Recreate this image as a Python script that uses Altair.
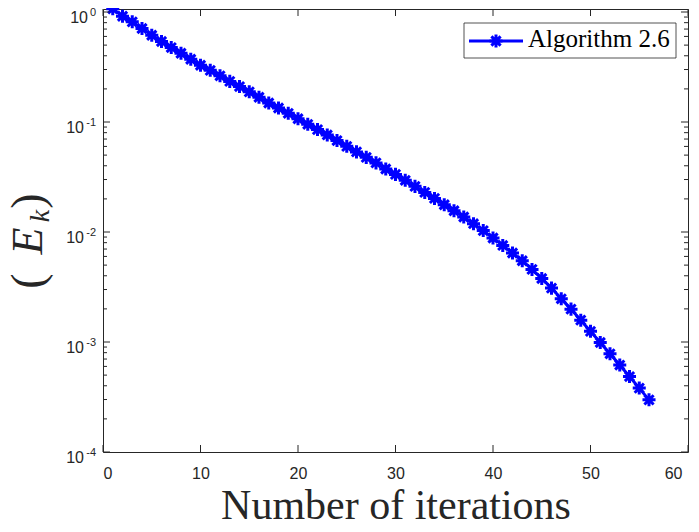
import altair as alt
import pandas as pd

# ---- data ----
iterations = list(range(1, 57))
errors = [
    1.069, 0.915, 0.814, 0.708, 0.615, 0.539, 0.475, 0.422, 0.372, 0.328,
    0.295, 0.263, 0.234, 0.210, 0.188, 0.168, 0.149, 0.134, 0.120, 0.107,
    0.0953, 0.0853, 0.0763, 0.0678, 0.0601, 0.0535, 0.0477, 0.0425, 0.0374, 0.0334,
    0.0295, 0.0260, 0.0229, 0.0202, 0.0177, 0.0156, 0.0137, 0.0119, 0.0103, 0.00882,
    0.00755, 0.00644, 0.00548, 0.00457, 0.00378, 0.00309, 0.00247, 0.00199, 0.00158, 0.00125,
    0.000989, 0.000781, 0.000617, 0.000485, 0.000381, 0.000298,
]
x_ticks = [0, 10, 20, 30, 40, 50, 60]
y_major = [1, 0.1, 0.01, 0.001, 0.0001]
y_exponents = ["0", "-1", "-2", "-3", "-4"]
y_minor = [m * 10.0 ** d for d in (-4, -3, -2, -1) for m in range(2, 10)]
legend_label = ["Algorithm 2.6"]

W, H = 585, 443
AX = "#262626"
BLUE = "#0000FF"
ASTER = ("M0,-1L0,1M-1,0L1,0M-0.7071,-0.7071L0.7071,0.7071"
         "M-0.7071,0.7071L0.7071,-0.7071")

xscale = alt.Scale(domain=[0, 60], nice=False, zero=False)
yscale = alt.Scale(type="log", domain=[0.0001, 1.065], nice=False)
xaxis = alt.Axis(values=x_ticks, ticks=False, domain=False, grid=False,
                 labelFont="Liberation Sans", labelFontSize=16, labelColor=AX,
                 labelPadding=13,
                 labelOffset=alt.ExprRef("datum.value == 60 ? -6 : 0"),
                 title="Number of iterations",
                 titleFont="Liberation Serif", titleFontSize=42,
                 titleFontWeight="normal", titleColor=AX,
                 titleBaseline="alphabetic", titleY=66)
X = alt.X("x:Q", scale=xscale, axis=xaxis)
Y = alt.Y("y:Q", scale=yscale, axis=None)

df = pd.DataFrame({"x": iterations, "y": errors})
line = alt.Chart(df).mark_line(color=BLUE, strokeWidth=3).encode(x=X, y=Y)
pts = alt.Chart(df).mark_point(shape=ASTER, size=170, filled=False,
                               color=BLUE, strokeWidth=3, opacity=1).encode(x=X, y=Y)

dfx = pd.DataFrame({"x": x_ticks})
xt_bot = alt.Chart(dfx).mark_rule(color=AX, strokeWidth=1).encode(
    x=X, y=alt.value(H), y2=alt.value(H - 7))
xt_top = alt.Chart(dfx).mark_rule(color=AX, strokeWidth=1).encode(
    x=X, y=alt.value(0), y2=alt.value(7))

dfy = pd.DataFrame({"y": y_major, "e": y_exponents})
dfm = pd.DataFrame({"y": y_minor})
yt_l = alt.Chart(dfy).mark_rule(color=AX, strokeWidth=1).encode(
    y=Y, x=alt.value(0), x2=alt.value(7))
yt_r = alt.Chart(dfy).mark_rule(color=AX, strokeWidth=1).encode(
    y=Y, x=alt.value(W - 7), x2=alt.value(W))
ym_l = alt.Chart(dfm).mark_rule(color=AX, strokeWidth=1).encode(
    y=Y, x=alt.value(0), x2=alt.value(4))
ym_r = alt.Chart(dfm).mark_rule(color=AX, strokeWidth=1).encode(
    y=Y, x=alt.value(W - 4), x2=alt.value(W))

ten0 = alt.Chart(dfy).transform_filter("datum.e == '0'").mark_text(
    text="10", align="right", baseline="alphabetic", dy=11,
    font="Liberation Sans", fontSize=16, color=AX).encode(y=Y, x=alt.value(-15))
tenN = alt.Chart(dfy).transform_filter("datum.e != '0'").mark_text(
    text="10", align="right", baseline="alphabetic", dy=11,
    font="Liberation Sans", fontSize=16, color=AX).encode(y=Y, x=alt.value(-19))
expo = alt.Chart(dfy).mark_text(
    align="right", baseline="alphabetic", dy=4,
    font="Liberation Sans", fontSize=11, color=AX).encode(
    y=Y, x=alt.value(-7), text="e:N")

# y title (E_k)
dft = pd.DataFrame({"t": ["(", "E", "k", ")"]})
def ytxt(ch, xv, yv, size, style):
    return alt.Chart(dft).transform_filter(f"datum.t == '{ch}'").mark_text(
        angle=270, align="center", baseline="alphabetic", font="Liberation Serif",
        fontSize=size, fontStyle=style, color=AX).encode(
        text="t:N", x=alt.value(xv), y=alt.value(yv))
yl1 = ytxt("(", -60, 272, 46, "normal")
yl2 = ytxt("E", -61, 232, 44, "italic")
yl3 = ytxt("k", -54, 207, 28, "italic")
yl4 = ytxt(")", -60, 192, 46, "normal")

# legend
dfl = pd.DataFrame({"label": legend_label})
lbox = alt.Chart(dfl).mark_rect(fill="white", stroke=AX, strokeWidth=0.8).encode(
    x=alt.value(361), x2=alt.value(573), y=alt.value(14), y2=alt.value(49))
lline = alt.Chart(dfl).mark_rule(color=BLUE, strokeWidth=3).encode(
    x=alt.value(366), x2=alt.value(420), y=alt.value(32))
lpt = alt.Chart(dfl).mark_point(shape=ASTER, size=170, filled=False, color=BLUE,
                                strokeWidth=3, opacity=1).encode(
    x=alt.value(393), y=alt.value(32))
ltxt = alt.Chart(dfl).mark_text(align="left", baseline="alphabetic",
                                font="Liberation Serif", fontSize=25, color="black").encode(
    text="label:N", x=alt.value(425), y=alt.value(38))

chart = alt.layer(
    line, pts, xt_bot, xt_top, yt_l, yt_r, ym_l, ym_r, ten0, tenN, expo,
    yl1, yl2, yl3, yl4, lbox, lline, lpt, ltxt
).properties(
    width=W, height=H,
    autosize=alt.AutoSizeParams(type="none"),
    padding={"left": 95, "top": 1, "right": 3, "bottom": 76},
).configure_view(stroke=AX, strokeWidth=1)

chart.save("out.html", embed_options={"renderer": "svg", "actions": False})
